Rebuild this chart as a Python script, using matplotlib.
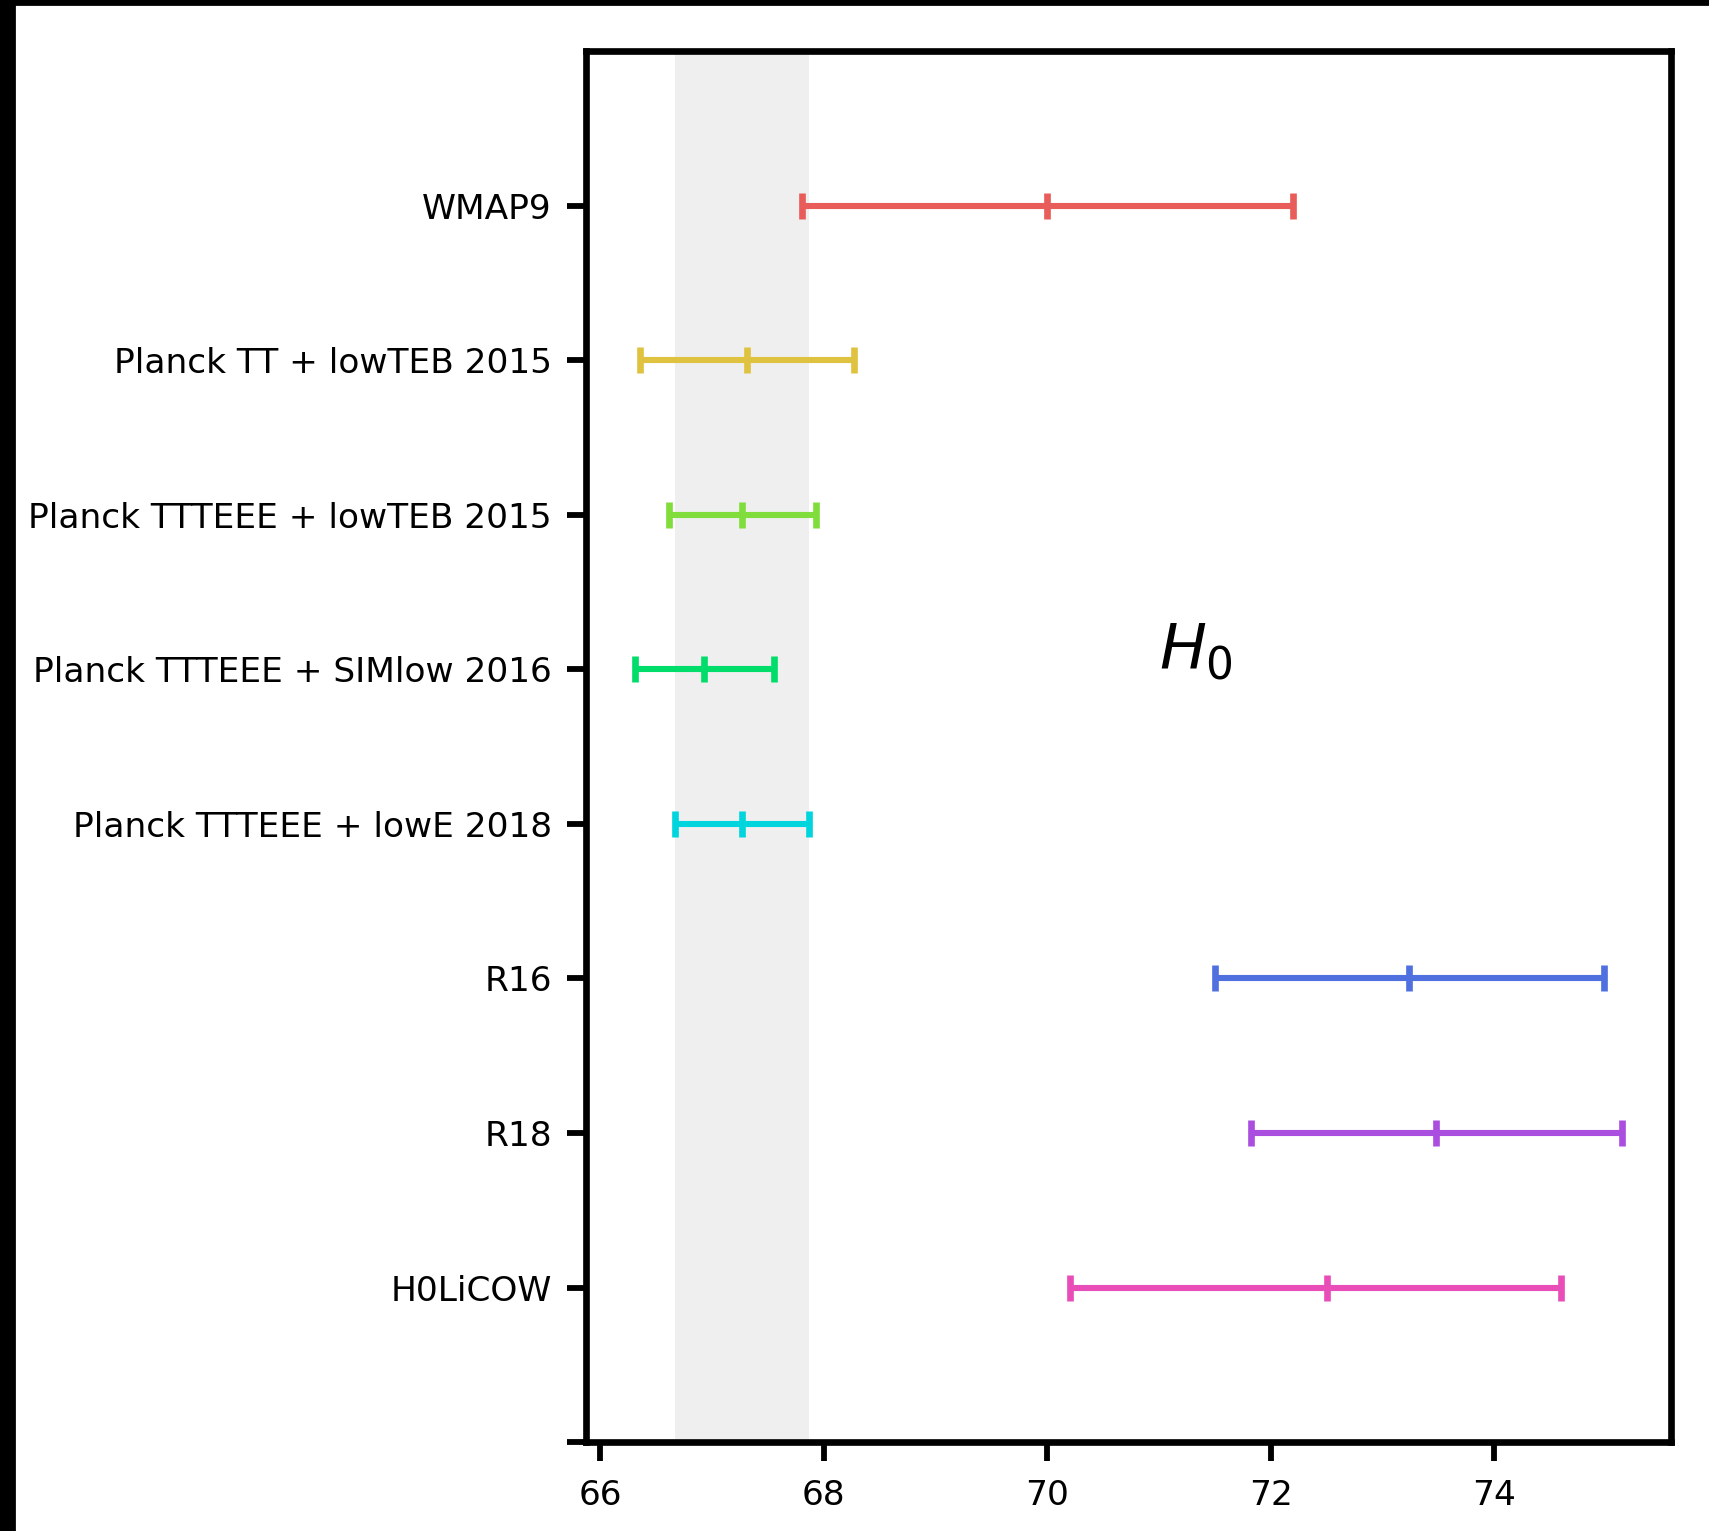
import numpy as np
import matplotlib
matplotlib.use("Agg")
import matplotlib.pyplot as plt
from matplotlib.patches import Rectangle

# H0 constraints, listed top to bottom
labels = ["WMAP9", "Planck TT + lowTEB 2015", "Planck TTTEEE + lowTEB 2015",
          "Planck TTTEEE + SIMlow 2016", "Planck TTTEEE + lowE 2018",
          "R16", "R18", "H0LiCOW"]
h0 = [70.0, 67.31, 67.27, 66.93, 67.27, 73.24, 73.48, 72.5]
err_lo = [2.2, 0.96, 0.66, 0.62, 0.60, 1.74, 1.66, 2.3]
err_hi = [2.2, 0.96, 0.66, 0.62, 0.60, 1.74, 1.66, 2.1]
colores = ["#e85c5a", "#dfc23f", "#80dd3b", "#00dd6a",
           "#00d5dd", "#5070e0", "#aa4ee0", "#e84db8"]

# Planck 2018 band
planck18 = 67.27
planck18_err = 0.60

fig = plt.figure(figsize=(8.545, 7.655), dpi=200)
ax = fig.add_axes([0.3431, 0.0581, 0.9777 - 0.3431, 0.9666 - 0.0581])

n = len(labels)
ypos = np.arange(n, 0, -1)

ax.axvspan(planck18 - planck18_err, planck18 + planck18_err, color="#efefef", lw=0, zorder=0)

for y, x, lo, hi, c in zip(ypos, h0, err_lo, err_hi, colores):
    ax.errorbar(x, y, xerr=[[lo], [hi]], fmt="|", color=c, ms=9.6, mew=2.4,
                elinewidth=2.2, capsize=4.8, capthick=2.4, zorder=3)

ax.text(71, 5, r"$H_0$", fontsize=22.5)

ax.set_xlim(65.874, 75.58)
ax.set_ylim(0, n + 1)
ax.set_yticks(np.arange(0, n + 1))
ax.set_yticklabels([""] + labels[::-1])
ax.set_xticks([66, 68, 70, 72, 74])

for s in ax.spines.values():
    s.set_linewidth(2.4)
ax.tick_params(axis="both", length=6.9, width=2.1, labelsize=12.4)
ax.tick_params(axis="y", pad=5.5)
ax.tick_params(axis="x", pad=6.5)

# dark edges on the left and top
fig.patches.append(Rectangle((0, 0), 14 / 1709, 1, transform=fig.transFigure,
                             color="black", zorder=10))
fig.patches.append(Rectangle((0, 1 - 4 / 1531), 1, 4 / 1531, transform=fig.transFigure,
                             color="black", zorder=10))

fig.savefig("out.png", dpi=200)
